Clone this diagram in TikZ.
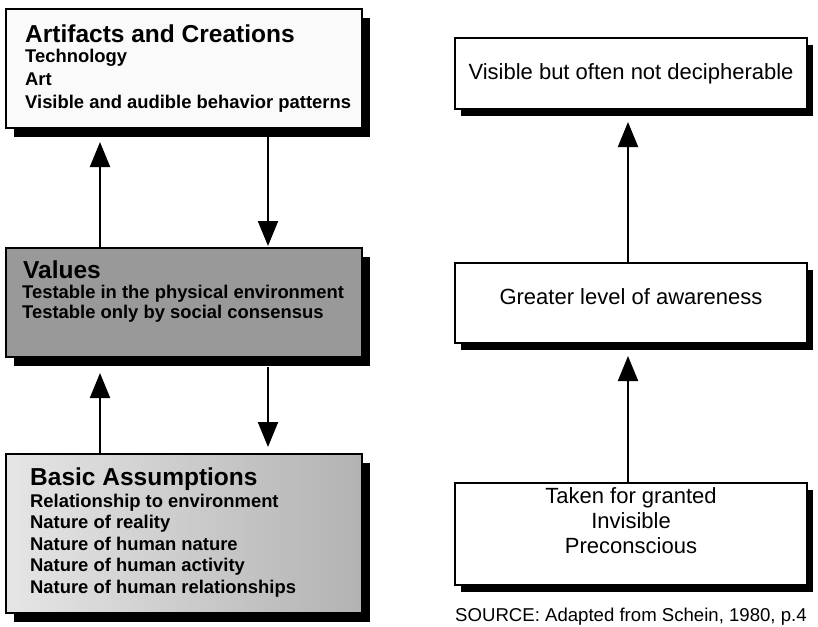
\documentclass[tikz,border=0pt]{standalone}
\usepackage{fontspec}
\setmainfont{Liberation Sans}
\usetikzlibrary{arrows.meta,shadows}
\begin{document}
\begin{tikzpicture}[x=1pt,y=-1pt,
  boxL/.style={draw=black,line width=2pt,inner sep=0pt,outer sep=0pt,minimum width=356pt,
    drop shadow={shadow xshift=8pt,shadow yshift=-9pt,fill=black,opacity=1}},
  boxR/.style={draw=black,line width=1.6pt,inner sep=0pt,outer sep=0pt,minimum width=352pt,fill=white,
    drop shadow={shadow xshift=6pt,shadow yshift=-7pt,fill=black,opacity=1}},
  ttl/.style={anchor=base west,inner sep=0pt,font=\fontsize{24.5}{24.5}\selectfont\bfseries},
  bdy/.style={anchor=base west,inner sep=0pt,font=\fontsize{18.4}{18.4}\selectfont\bfseries},
  rtx/.style={anchor=base,inner sep=0pt,font=\fontsize{22}{22}\selectfont},
  arr/.style={line width=2pt,-{Triangle[width=20pt,length=25pt]}}]
\useasboundingbox (0,0) rectangle (818,626);
% left boxes
\node[boxL,fill=black!2,minimum height=119pt] (b1) at (184,68.5) {};
\node[boxL,fill=black!40,minimum height=109pt] (b2) at (184,302.5) {};
\node[boxL,left color=black!10,right color=black!30,minimum height=159pt] (b3) at (184,533.5) {};
% right boxes
\node[boxR,minimum height=71pt] (r1) at (631,73.5) {};
\node[boxR,minimum height=80pt] (r2) at (631,303) {};
\node[boxR,minimum height=102pt] (r3) at (631,534) {};
% texts box 1
\node[ttl] (t11) at (25,43) {Artifacts and Creations};
\node[bdy] (t12) at (25,63) {Technology};
\node[bdy] (t13) at (25,85.5) {Art};
\node[bdy] (t14) at (25,108) {Visible and audible behavior patterns};
% texts box 2
\node[ttl] (t21) at (23,278) {Values};
\node[bdy] (t22) at (22,298) {Testable in the physical environment};
\node[bdy] (t23) at (22,318) {Testable only by social consensus};
% texts box 3
\node[ttl] (t31) at (30,485) {Basic Assumptions};
\node[bdy] (t32) at (30,507) {Relationship to environment};
\node[bdy] (t33) at (30,528.5) {Nature of reality};
\node[bdy] (t34) at (30,550) {Nature of human nature};
\node[bdy] (t35) at (30,571.5) {Nature of human activity};
\node[bdy] (t36) at (30,593) {Nature of human relationships};
% right texts
\node[rtx] (s1) at (631,79) {Visible but often not decipherable};
\node[rtx] (s2) at (631,304) {Greater level of awareness};
\node[rtx] (s3) at (631,503) {Taken for granted};
\node[rtx] (s4) at (631,528) {Invisible};
\node[rtx] (s5) at (631,553) {Preconscious};
\node[anchor=base west,inner sep=0pt,font=\fontsize{18.6}{18.6}\selectfont] (src) at (455,621) {SOURCE: Adapted from Schein, 1980, p.4};
% arrow end coordinates
\coordinate (u1) at (100,142);
\coordinate (d1s) at (268,137);
\coordinate (d1) at (268,246);
\coordinate (u2) at (100,373);
\coordinate (d2s) at (268,367);
\coordinate (d2) at (268,447);
\coordinate (v1) at (628,122);
\coordinate (v2) at (628,356);
% arrows
\draw[arr] (b2.north -| u1) -- (u1);
\draw[arr] (d1s) -- (d1);
\draw[arr] (b3.north -| u2) -- (u2);
\draw[arr] (d2s) -- (d2);
\draw[arr] (r2.north -| v1) -- (v1);
\draw[arr] (r3.north -| v2) -- (v2);
\end{tikzpicture}
\end{document}
